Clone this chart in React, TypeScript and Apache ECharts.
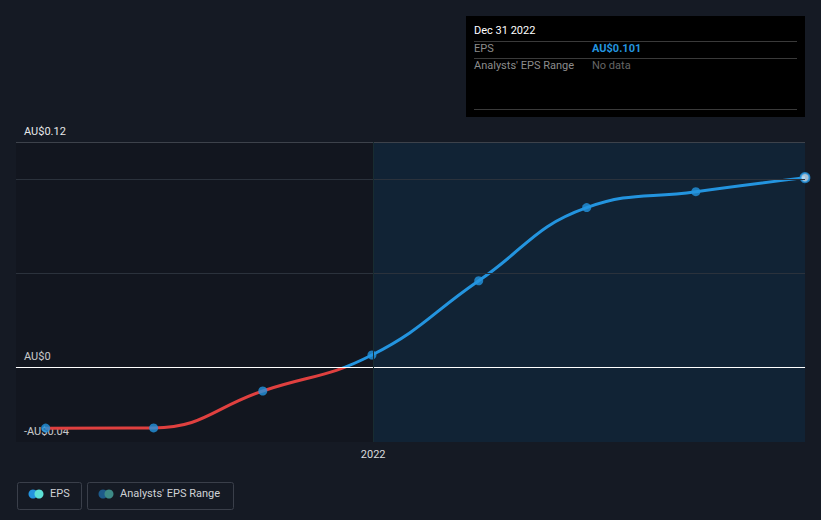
import React, { useEffect, useRef } from "react";
import * as echarts from "echarts";

const periods = [
  "2021-03-31",
  "2021-06-30",
  "2021-09-30",
  "2021-12-31",
  "2022-03-31",
  "2022-06-30",
  "2022-09-30",
  "2022-12-31",
];
const epsValues = [-0.0326, -0.0325, -0.0128, 0.0064, 0.046, 0.085, 0.0935, 0.101];
const yTickLabels: Record<string, string> = { "-0.04": "-AU$0.04", "0": "AU$0", "0.12": "AU$0.12" };
const xTickLabel = "2022";
const gridValues = [0.05, 0.1];

const BG = "#151a24";
const RED = "#e0403f";
const BLUE = "#2394df";

export default function App() {
  const ref = useRef<HTMLDivElement>(null);
  useEffect(() => {
    const chart = echarts.init(ref.current!, null, { renderer: "svg" });
    const t = (s: string) => new Date(s + "T00:00:00Z").getTime();
    const xMin = t("2021-03-06");
    const xMax = t("2022-12-31");
    const split = t("2022-01-01");
    const data = periods.map((p, i) => [t(p), epsValues[i]]);

    chart.setOption({
      animation: false,
      backgroundColor: BG,
      grid: { left: 16, right: 16, top: 142, bottom: 78 },
      xAxis: {
        type: "value",
        min: xMin,
        max: xMax,
        axisLine: { show: true, lineStyle: { color: "#3d424b", width: 1 } },
        axisTick: { show: false },
        axisLabel: { show: false },
        splitLine: { show: false },
      },
      yAxis: {
        type: "value",
        min: -0.04,
        max: 0.12,
        interval: 0.04,
        axisLine: { show: false },
        axisTick: { show: false },
        splitLine: { show: false },
        axisLabel: {
          inside: true,
          verticalAlign: "bottom",
          margin: 8,
          padding: [0, 0, 5, 0],
          color: "#e6e7e9",
          fontFamily: "Roboto",
          fontSize: 11,
          formatter: (v: number) => {
            const k = String(Math.round(v * 100) / 100);
            return yTickLabels[k] ?? "";
          },
        },
      },
      series: [
        {
          type: "line",
          data,
          smooth: 0.45,
          symbol: "none",
          lineStyle: { width: 3, color: BLUE },
          z: 3,
          markArea: {
            silent: true,
            data: [
              [{ xAxis: xMin, itemStyle: { color: "rgba(0,0,0,0.13)" } }, { xAxis: split }],
              [{ xAxis: split, itemStyle: { color: "#112335" } }, { xAxis: xMax }],
            ],
          },
          markLine: {
            silent: true,
            symbol: "none",
            label: { show: false },
            data: [
              ...gridValues.map((v) => ({ yAxis: v, lineStyle: { color: "#2b323c", width: 1, type: "solid" } })),
              { yAxis: 0.12, lineStyle: { color: "#3d424b", width: 1, type: "solid" } },
              { yAxis: 0, lineStyle: { color: "#ffffff", width: 1, type: "solid" } },
              {
                xAxis: split,
                lineStyle: { color: "#182c31", width: 1, type: "solid" },
                label: {
                  show: true,
                  position: "start",
                  formatter: xTickLabel,
                  color: "#d9dbde",
                  fontFamily: "Roboto",
                  fontSize: 11,
                  distance: 7,
                },
              },
            ],
          },
        },
        {
          type: "scatter",
          clip: true,
          data: data.map((d, i) =>
            i === data.length - 1
              ? { value: d, itemStyle: { color: "#cfe8fb", borderColor: BLUE, borderWidth: 2 } }
              : { value: d }
          ),
          symbolSize: 9,
          itemStyle: { color: BLUE },
          z: 4,
        },
      ],
      graphic: [
        { type: "text", right: 24, top: 148, style: { text: "Actual", fill: "#ffffff", font: "11px Roboto" } },
        { type: "rect", shape: { x: 466, y: 16, width: 339, height: 101 }, style: { fill: "#000000" } },
        { type: "text", x: 474, y: 25, style: { text: "Dec 31 2022", fill: "#ffffff", font: "11px Roboto" } },
        { type: "line", shape: { x1: 474, y1: 41.5, x2: 797, y2: 41.5 }, style: { stroke: "#3a3a3a", lineWidth: 1 } },
        { type: "text", x: 474, y: 43, style: { text: "EPS", fill: "#8c8c8c", font: "11px Roboto" } },
        { type: "text", x: 592, y: 43, style: { text: "AU$0.101", fill: BLUE, font: "bold 11px Roboto" } },
        { type: "line", shape: { x1: 474, y1: 58.5, x2: 797, y2: 58.5 }, style: { stroke: "#3a3a3a", lineWidth: 1 } },
        { type: "text", x: 474, y: 60, style: { text: "Analysts' EPS Range", fill: "#8c8c8c", font: "11px Roboto" } },
        { type: "text", x: 592, y: 60, style: { text: "No data", fill: "#666666", font: "11px Roboto" } },
        { type: "line", shape: { x1: 474, y1: 109.5, x2: 797, y2: 109.5 }, style: { stroke: "#3a3a3a", lineWidth: 1 } },
        { type: "rect", shape: { x: 17.5, y: 482.5, width: 64, height: 27, r: 2 }, style: { fill: "none", stroke: "#3a3f4a", lineWidth: 1 } },
        { type: "circle", shape: { cx: 33, cy: 494, r: 4.5 }, style: { fill: BLUE } },
        { type: "circle", shape: { cx: 39, cy: 494, r: 4.5 }, style: { fill: "#5ce0d6" } },
        { type: "text", x: 50, y: 488, style: { text: "EPS", fill: "#cfd2d6", font: "11px Roboto" } },
        { type: "rect", shape: { x: 87.5, y: 482.5, width: 146, height: 27, r: 2 }, style: { fill: "none", stroke: "#3a3f4a", lineWidth: 1 } },
        { type: "circle", shape: { cx: 103, cy: 494, r: 4.5 }, style: { fill: "#1d5a8a" } },
        { type: "circle", shape: { cx: 109, cy: 494, r: 4.5 }, style: { fill: "#3d8a86" } },
        { type: "text", x: 120, y: 488, style: { text: "Analysts' EPS Range", fill: "#cfd2d6", font: "11px Roboto" } },
      ],
    });

    // Red below zero, blue above: a hard-stop gradient placed at the axis' zero pixel.
    const top = chart.convertToPixel({ gridIndex: 0 }, [xMin, 0.12])[1];
    const bottom = chart.convertToPixel({ gridIndex: 0 }, [xMin, -0.04])[1];
    const zeroY = chart.convertToPixel({ gridIndex: 0 }, [xMin, 0])[1];
    const f = (zeroY - top) / (bottom - top);
    chart.setOption({
      series: [
        {
          lineStyle: {
            color: new echarts.graphic.LinearGradient(
              0, top, 0, bottom,
              [
                { offset: 0, color: BLUE },
                { offset: f, color: BLUE },
                { offset: f, color: RED },
                { offset: 1, color: RED },
              ],
              true
            ),
          },
        },
      ],
    });
    return () => chart.dispose();
  }, []);
  return <div ref={ref} style={{ position: "fixed", left: 0, top: 0, width: 821, height: 520 }} />;
}
